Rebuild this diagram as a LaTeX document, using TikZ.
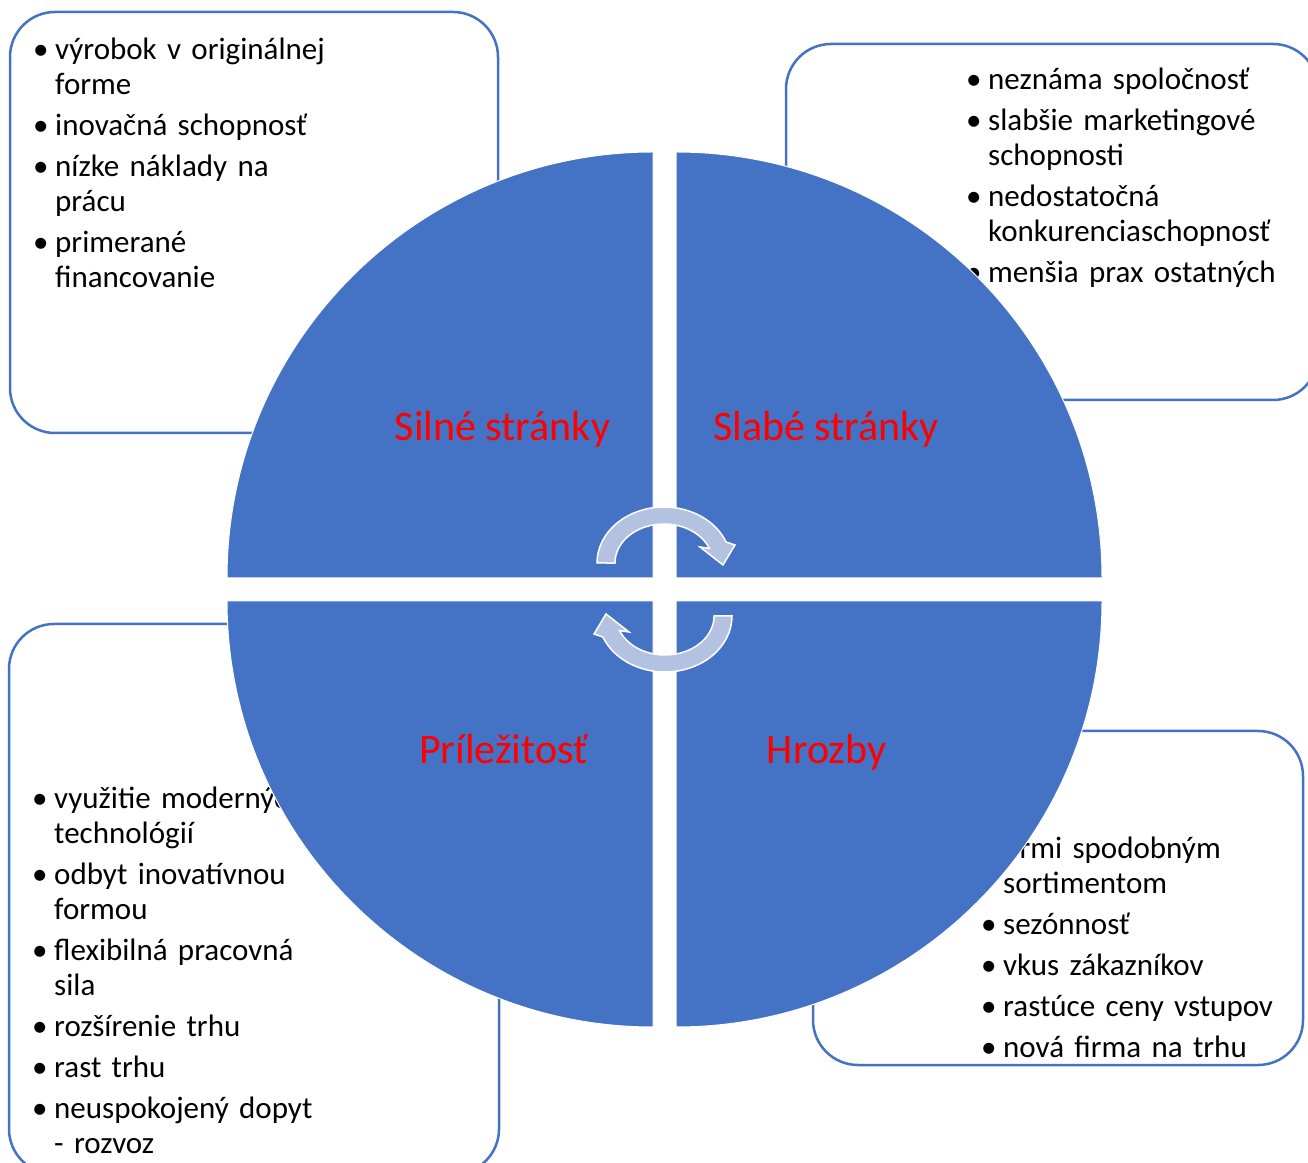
\documentclass[tikz,border=0pt]{standalone}
\usepackage{fontspec}
\setmainfont{Carlito}
\definecolor{qblue}{HTML}{4472C4}
\definecolor{arrowfill}{HTML}{B4C2E1}
\definecolor{lblred}{HTML}{FF0000}
\newcommand\bitem[1]{\hangindent=22pt\hangafter=1\noindent\makebox[22pt][l]{\textbullet}#1\par\vspace{6pt}}
\newcommand\nl{\hfil\break}
\begin{document}
\begin{tikzpicture}[x=1pt,y=1pt,
  box/.style={draw=qblue, line width=2.5pt, rounded corners=45pt, fill=white},
  list/.style={anchor=base west, inner sep=0pt, text width=420pt, font=\fontsize{31}{35}\selectfont\raggedright},
  quad/.style={fill=qblue, draw=white, line width=1pt},
  lbl/.style={anchor=base, inner sep=0pt, text=lblred, font=\fontsize{42}{50}\selectfont},
  carrow/.style={fill=arrowfill, draw=white, line width=1.5pt, line join=miter}]
\clip (0,0) rectangle (1308,1162);
\fill[white] (0,0) rectangle (1308,1162);
% boxes
\draw[box] (10,729) rectangle (498,1150);
\draw[box] (786,762) rectangle (1318,1118);
\draw[box] (9,-12) rectangle (499,538);
\draw[box] (813,97) rectangle (1303,431);
% lists
\node[list] (stext) at (33,1102) {%
\bitem{výrobok v originálnej\nl forme}
\bitem{inovačná schopnosť}
\bitem{nízke náklady na\nl prácu}
\bitem{primerané\nl financovanie}};
\node[list] (wtext) at (966,1072) {%
\bitem{neznáma spoločnosť}
\bitem{slabšie marketingové\nl schopnosti}
\bitem{nedostatočná\nl konkurenciaschopnosť}
\bitem{menšia prax ostatných}};
\node[list] (otext) at (32,353) {%
\bitem{využitie moderných\nl technológií}
\bitem{odbyt inovatívnou\nl formou}
\bitem{flexibilná pracovná\nl sila}
\bitem{rozšírenie trhu}
\bitem{rast trhu}
\bitem{neuspokojený dopyt\nl - rozvoz}};
\node[list] (ttext) at (981,303) {%
\bitem{firmi spodobným\nl sortimentom}
\bitem{sezónnosť}
\bitem{vkus zákazníkov}
\bitem{rastúce ceny vstupov}
\bitem{nová firma na trhu}};
% quadrants
\filldraw[quad] (653,584) -- (653,1010) arc[start angle=90, end angle=180, radius=426pt] -- cycle;
\filldraw[quad] (676,584) -- (1102,584) arc[start angle=0, end angle=90, radius=426pt] -- cycle;
\filldraw[quad] (653,561) -- (227,561) arc[start angle=180, end angle=270, radius=426pt] -- cycle;
\filldraw[quad] (676,561) -- (676,135) arc[start angle=270, end angle=360, radius=426pt] -- cycle;
% labels
\node[lbl] (s) at (502.5,721) {Silné stránky};
\node[lbl] (w) at (826,721) {Slabé stránky};
\node[lbl] (o) at (503.5,398) {Príležitosť};
\node[lbl] (t) at (826.5,398) {Hrozby};
% circular arrows
\filldraw[carrow] (597,599) arc[start angle=180, end angle=22, x radius=67pt, y radius=56pt]
  -- (735,617) -- (723,597) -- (700,615) -- (709.4,613.6)
  arc[start angle=22, end angle=180, x radius=49pt, y radius=39pt] -- cycle;
\begin{scope}[rotate around={180:(664.5,572.5)}]
\filldraw[carrow] (597,599) arc[start angle=180, end angle=22, x radius=67pt, y radius=56pt]
  -- (735,617) -- (723,597) -- (700,615) -- (709.4,613.6)
  arc[start angle=22, end angle=180, x radius=49pt, y radius=39pt] -- cycle;
\end{scope}
\end{tikzpicture}
\end{document}
